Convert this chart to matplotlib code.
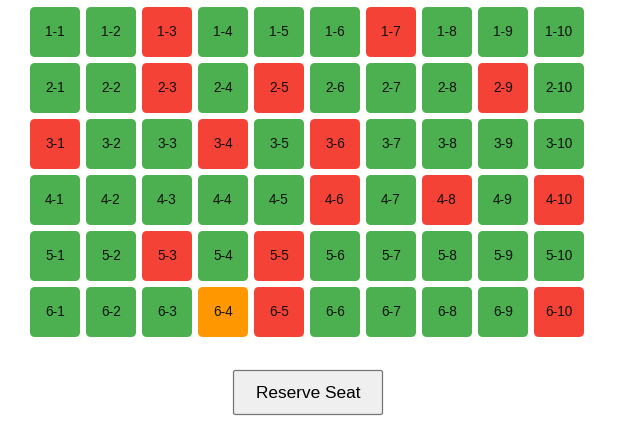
import matplotlib
matplotlib.use("Agg")
import matplotlib.pyplot as plt
from matplotlib.patches import FancyBboxPatch

# seat map data
rows = [1, 2, 3, 4, 5, 6]
cols = [1, 2, 3, 4, 5, 6, 7, 8, 9, 10]
booked = ["1-3", "1-7", "2-3", "2-5", "2-9", "3-1", "3-4", "3-6",
          "4-6", "4-8", "4-10", "5-3", "5-5", "6-5", "6-10"]
selected = ["6-4"]
button_label = "Reserve Seat"

colors = {"free": "#4CAF50", "booked": "#F44336", "selected": "#FF9800"}

fig = plt.figure(figsize=(6.32, 4.22), dpi=100)
ax = fig.add_axes([0, 0, 1, 1])
ax.set_xlim(0, 632)
ax.set_ylim(422, 0)
ax.axis("off")

x0, y0, size, gap = 30, 7, 50, 6
r = 5
for i, row in enumerate(rows):
    for j, col in enumerate(cols):
        name = f"{row}-{col}"
        if name in booked:
            c = colors["booked"]
        elif name in selected:
            c = colors["selected"]
        else:
            c = colors["free"]
        x = x0 + j * (size + gap)
        y = y0 + i * (size + gap)
        ax.add_patch(FancyBboxPatch((x + r, y + r), size - 2 * r, size - 2 * r,
                                    boxstyle=f"round,pad={r}",
                                    fc=c, ec="none"))
        ax.text(x + size / 2, y + size / 2, name, ha="center", va="center",
                fontsize=9.8, family="Liberation Sans", color="#111111")

# button
bx, by, bw, bh = 233.5, 370.5, 149, 44
ax.add_patch(FancyBboxPatch((bx + 2, by + 2), bw - 4, bh - 4,
                            boxstyle="round,pad=2",
                            fc="#EFEFEF", ec="#767676", lw=0.9))
ax.text(bx + bw / 2, by + bh / 2 + 0.5, button_label, ha="center", va="center",
        fontsize=12.4, family="Liberation Sans", color="#000000")

fig.savefig("out.png", dpi=100)
